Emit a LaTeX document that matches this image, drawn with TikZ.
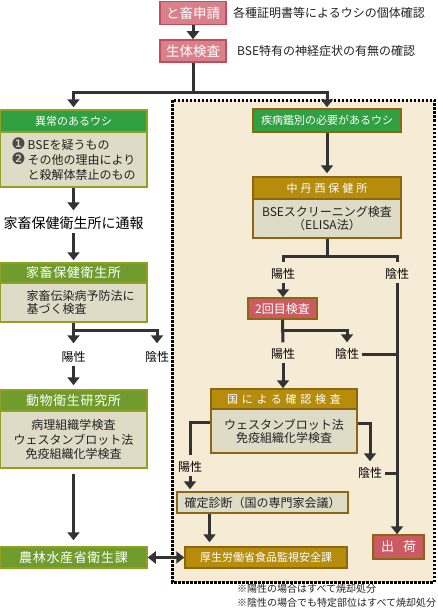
\documentclass[tikz,border=0pt]{standalone}
\usepackage{fontspec}
\setmainfont{Noto Sans CJK JP}
\newfontfamily\dings{DejaVu Sans}
\newfontfamily\wideA{Noto Sans CJK JP}[LetterSpace=5]
\newfontfamily\wideB{Noto Sans CJK JP}[LetterSpace=27]
\newfontfamily\wideC{Noto Sans CJK JP}[LetterSpace=34]
\usepackage{tikz}
\usepackage{xcolor}
\usetikzlibrary{arrows.meta, calc, positioning}
\newcommand{\fsz}[2]{\fontsize{#1}{#2}\selectfont}
\newcommand{\cnum}[1]{\smash{\raisebox{-0.5pt}{\dings\fsz{16}{15}\color{dotgray}#1}}}

\definecolor{linegray}{HTML}{333333}
\definecolor{textgray}{HTML}{222222}
\definecolor{dotgray}{HTML}{4A4A4A}
\definecolor{framefill}{HTML}{F6ECD6}
\definecolor{pinkfill}{HTML}{D9808A}
\definecolor{pinkline}{HTML}{C04E5E}
\definecolor{redfill}{HTML}{CC5A62}
\definecolor{greenfill}{HTML}{31A042}
\definecolor{olivefill}{HTML}{6F9C2C}
\definecolor{oliveline}{HTML}{8FA023}
\definecolor{goldfill}{HTML}{B68C0C}
\definecolor{goldline}{HTML}{8E6612}
\definecolor{bodyfill}{HTML}{DEDCC6}

\tikzset{
    ln/.style={draw=linegray, line width=3pt},
    arr/.style={ln, -{Triangle[width=12pt,length=8pt]}},
    dbl/.style={ln, {Triangle[width=12pt,length=8pt]}-{Triangle[width=12pt,length=8pt]}},
    plainbox/.style={inner sep=0pt, line width=1.5pt},
    pinkbox/.style={plainbox, fill=pinkfill, draw=pinkline, text=white, font=\fsz{13.5}{15}},
    redbox/.style={plainbox, fill=redfill, draw=goldline, text=white, font=\fsz{12}{14}},
    greenhead/.style={plainbox, fill=greenfill, draw=oliveline, text=white, font=\fsz{11}{13}},
    olivehead/.style={plainbox, fill=olivefill, draw=oliveline, text=white, font=\wideA\fsz{13}{15}},
    olivebody/.style={plainbox, fill=bodyfill, draw=oliveline, text=textgray, font=\fsz{12}{14.5}},
    goldhead/.style={plainbox, fill=goldfill, draw=goldline, text=white, font=\fsz{11}{13}},
    goldbody/.style={plainbox, fill=bodyfill, draw=goldline, text=textgray, font=\fsz{12}{13}},
    leftw/.style={minimum width=147pt},
    lbl/.style={inner sep=3pt, text=black, font=\fsz{12}{14}},
    note/.style={inner sep=2pt, text=textgray, font=\fsz{12}{14}},
    dotframe/.style={draw=black, fill=framefill, line width=3pt, dash pattern=on 2.5pt off 1.5pt}
}

\begin{document}
\begin{tikzpicture}[x=1pt, y=-1pt]
                        \useasboundingbox (0, 0) rectangle (437, 610);
                        \draw[dotframe] (172, 100) rectangle (434, 582);

                        \node[pinkbox, minimum width=66pt, minimum height=23pt] (apply) at (193, 13) {と畜申請};
                        \node[note, anchor=west] (applynote) at (231, 13) {各種証明書等によるウシの個体確認};
                        \node[pinkbox, minimum width=66pt, minimum height=22pt] (exam) at (193, 51) {生体検査};
                        \node[note, anchor=west] (examnote) at (235, 51) {BSE特有の神経症状の有無の確認};
                        \coordinate (fork) at (193, 92);

                        \node[greenhead, leftw, minimum height=22pt] (abnhead) at (73.5, 121) {異常のあるウシ};
                        \node[olivebody, leftw, minimum height=55pt, align=left, font=\fsz{12}{15}] (abnbody) at (73.5, 159.5) {\cnum{❶}\,BSEを疑うもの\\\cnum{❷}\,その他の理由により\\\phantom{\cnum{❷}\,}と殺解体禁止のもの};
                        \node[lbl, font=\fsz{14}{16}] (report) at (73.5, 223) {家畜保健衛生所に通報};
                        \node[olivehead, leftw, minimum height=20pt] (lhohead) at (73.5, 273) {家畜保健衛生所};
                        \node[olivebody, leftw, minimum height=39pt, align=left, font=\fsz{12}{13.5}] (lhobody) at (73.5, 302.5) {\hspace*{14pt}家畜伝染病予防法に\\\hspace*{14pt}基づく検査};
                        \coordinate (lhofork) at (73.5, 330);
                        \node[lbl] (pos1) at (73.5, 357) {陽性};
                        \node[lbl] (neg1) at (157, 357) {陰性};
                        \node[olivehead, leftw, minimum height=21pt] (labhead) at (73.5, 400.5) {動物衛生研究所};
                        \node[olivebody, leftw, minimum height=57pt, align=center] (labbody) at (73.5, 439.5) {病理組織学検査\\ウェスタンブロット法\\免疫組織化学検査};
                        \node[olivehead, leftw, minimum height=21pt] (maf) at (73.5, 557.5) {農林水産省衛生課};

                        \node[greenhead, draw=goldline, minimum width=148pt, minimum height=23pt] (diag) at (327, 120.5) {疾病鑑別の必要があるウシ};
                        \node[goldhead, minimum width=148pt, minimum height=22pt, font=\wideB\fsz{11}{13}] (chuhead) at (327, 188) {中丹西保健所};
                        \node[goldbody, minimum width=148pt, minimum height=39pt, align=center] (chubody) at (327, 218.5) {BSEスクリーニング検査\\（ELISA法）};
                        \coordinate (chufork) at (327, 256);
                        \node[lbl] (pos2) at (283, 274) {陽性};
                        \node[lbl] (neg2) at (397, 274) {陰性};
                        \node[redbox, minimum width=69pt, minimum height=21pt] (second) at (282.5, 308.5) {2回目検査};
                        \coordinate (secfork) at (283, 330);
                        \node[lbl] (pos3) at (283, 354) {陽性};
                        \node[lbl] (neg3) at (347, 354) {陰性};
                        \node[goldhead, minimum width=146pt, minimum height=20pt, font=\wideC\fsz{11}{13}] (nathead) at (284, 399) {国による確認検査};
                        \node[goldbody, minimum width=146pt, minimum height=44pt, align=center] (natbody) at (284, 431) {ウェスタンブロット法\\免疫組織化学検査};
                        \node[lbl] (pos4) at (190, 467) {陽性};
                        \node[lbl] (neg4) at (370, 473) {陰性};
                        \node[goldbody, minimum width=171pt, minimum height=21pt] (conf) at (262.5, 502.5) {確定診断（国の専門家会議）};
                        \node[goldhead, minimum width=162pt, minimum height=21pt] (mhlw) at (266, 557.5) {厚生労働省食品監視安全課};
                        \node[redbox, minimum width=51pt, minimum height=24pt, font=\fsz{13}{15}] (ship) at (398.5, 547) {出\hspace{9pt}荷};
                        \node[note, anchor=west, align=left, font=\fsz{10}{14}] (notes) at (235, 596) {※陽性の場合はすべて焼却処分\\※陰性の場合でも特定部位はすべて焼却処分};

                        \draw[arr] (apply.south) -- (exam.north);
                        \draw[ln] (exam.south) -- (fork);
                        \draw[arr, shorten >=2pt] (fork) -| (abnhead.north);
                        \draw[arr, shorten >=1pt] (fork) -| (diag.north);
                        \draw[arr, shorten >=3pt] (abnbody.south) -- (report.north);
                        \draw[arr, shorten >=2pt] (report.south) -- (lhohead.north);
                        \draw[arr, shorten >=5pt] (lhobody.south) -- (pos1.north);
                        \draw[arr, shorten >=5pt] (lhofork) -| (neg1.north);
                        \draw[arr, shorten >=4pt] (pos1.south) -- (labhead.north);
                        \draw[arr, shorten >=6pt, shorten <=5pt] (labbody.south) -- (maf.north);
                        \draw[dbl] (maf.east) -- (mhlw.west);

                        \draw[arr, shorten >=3pt] (diag.south) -- (chuhead.north);
                        \draw[ln] (chubody.south) -- (chufork);
                        \draw[ln, shorten >=3pt] (chufork) -| (pos2.north);
                        \draw[ln, shorten >=3pt] (chufork) -| (neg2.north);
                        \draw[arr] (pos2.south) -- (pos2.south |- second.north);
                        \draw[arr] (neg2.south) -- (neg2.south |- ship.north);
                        \draw[ln, shorten >=3pt] (second.south) -- (pos3.north);
                        \draw[arr, shorten >=3pt] (secfork) -| (neg3.north);
                        \draw[ln] (neg3.east) -- (neg3.east -| neg2.south);
                        \draw[arr] (pos3.south) -- (pos3.south |- nathead.north);
                        \draw[ln, shorten >=3pt] ([yshift=9pt]natbody.west) -| (pos4.north);
                        \draw[arr, shorten >=2pt] (pos4.south) -- (pos4.south |- conf.north);
                        \draw[arr, shorten >=3pt] ([yshift=8pt]natbody.east) -| (neg4.north);
                        \draw[ln] (neg4.east) -- (neg4.east -| neg2.south);
                        \draw[arr, shorten >=4pt] ([xshift=-53pt]conf.south) -- ([xshift=-53pt]conf.south |- mhlw.north);
                    \end{tikzpicture}
\end{document}
